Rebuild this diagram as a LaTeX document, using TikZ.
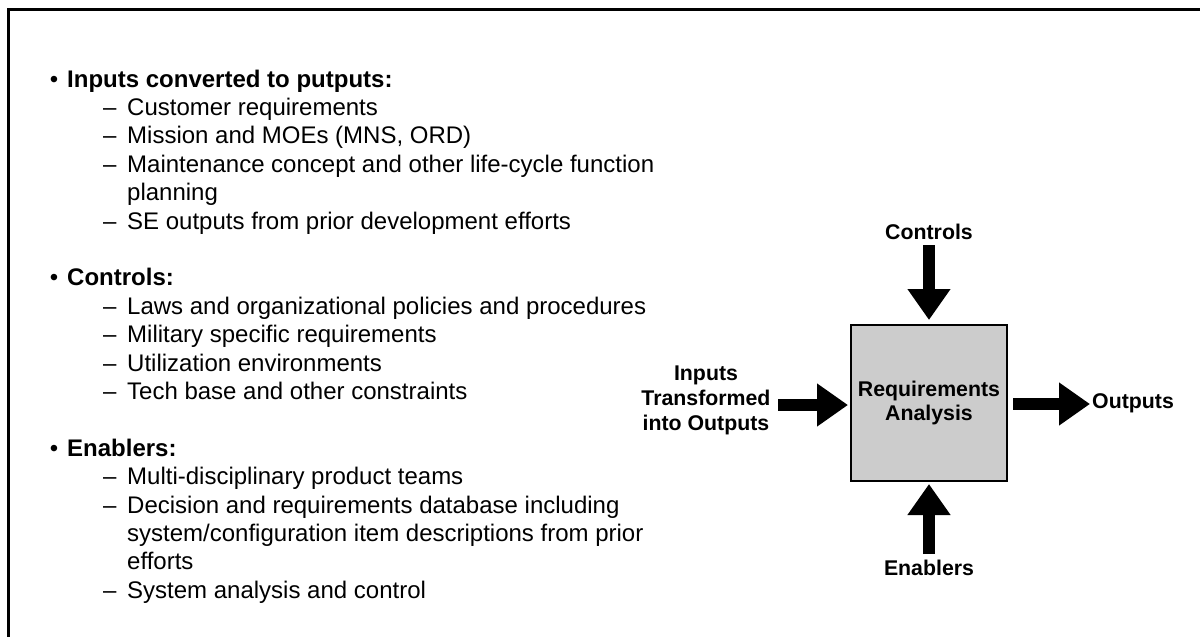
\documentclass[tikz,border=0pt]{standalone}
\usepackage{fontspec}
\setmainfont{Liberation Sans}
\usetikzlibrary{arrows.meta}
\begin{document}
\begin{tikzpicture}[x=1pt,y=-1pt,
  listtxt/.style={anchor=base west,inner sep=0pt,font=\fontsize{24}{29}\selectfont},
  hdrtxt/.style={listtxt,font=\fontsize{24}{29}\selectfont\bfseries},
  bul/.style={anchor=base,inner sep=0pt,font=\fontsize{24}{29}\selectfont},
  dsh/.style={anchor=base west,inner sep=0pt,font=\fontsize{24}{29}\selectfont},
  lab/.style={inner sep=0pt,align=center,font=\fontsize{21.3}{25}\selectfont\bfseries},
  bigarrow/.style={line width=12pt,-{Triangle[width=41pt,length=31pt]}},
  procbox/.style={draw,line width=2pt,fill=black!20,minimum width=156pt,minimum height=156pt,inner sep=0pt,align=center,font=\fontsize{21.3}{24}\selectfont\bfseries}
]
\useasboundingbox (0,0) rectangle (1200,637);
\begin{scope}
\clip (0,0) rectangle (1200,637);
\draw[line width=3pt] (8,9) rectangle (1220,660);
\end{scope}

% ---- list ----
\node[bul] (b1) at (54,87) {•};
\node[hdrtxt] (h1) at (67,87) {Inputs converted to putputs:};
\node[dsh] (d11) at (103,115.4) {–};
\node[listtxt] (t11) at (127,115.4) {Customer requirements};
\node[dsh] (d12) at (103,143.8) {–};
\node[listtxt] (t12) at (127,143.8) {Mission and MOEs (MNS, ORD)};
\node[dsh] (d13) at (103,172.2) {–};
\node[listtxt] (t13) at (127,172.2) {Maintenance concept and other life-cycle function};
\node[listtxt] (t13b) at (127,200.6) {planning};
\node[dsh] (d14) at (103,229) {–};
\node[listtxt] (t14) at (127,229) {SE outputs from prior development efforts};

\node[bul] (b2) at (54,285.8) {•};
\node[hdrtxt] (h2) at (67,285.8) {Controls:};
\node[dsh] (d21) at (103,314.2) {–};
\node[listtxt] (t21) at (127,314.2) {Laws and organizational policies and procedures};
\node[dsh] (d22) at (103,342.6) {–};
\node[listtxt] (t22) at (127,342.6) {Military specific requirements};
\node[dsh] (d23) at (103,371) {–};
\node[listtxt] (t23) at (127,371) {Utilization environments};
\node[dsh] (d24) at (103,399.4) {–};
\node[listtxt] (t24) at (127,399.4) {Tech base and other constraints};

\node[bul] (b3) at (54,456.2) {•};
\node[hdrtxt] (h3) at (67,456.2) {Enablers:};
\node[dsh] (d31) at (103,484.6) {–};
\node[listtxt] (t31) at (127,484.6) {Multi-disciplinary product teams};
\node[dsh] (d32) at (103,513) {–};
\node[listtxt] (t32) at (127,513) {Decision and requirements database including};
\node[listtxt] (t32b) at (127,541.4) {system/configuration item descriptions from prior};
\node[listtxt] (t32c) at (127,569.8) {efforts};
\node[dsh] (d33) at (103,598.2) {–};
\node[listtxt] (t33) at (127,598.2) {System analysis and control};

% ---- diagram ----
\node[procbox] (box) at (929,403) {Requirements\\Analysis};
\node[lab] (ctl) at (929,232) {Controls};
\node[lab] (enb) at (929,568) {Enablers};
\node[lab] (inlab) at (706,400) {Inputs\\Transformed\\into Outputs};
\node[lab,anchor=west] (outlab) at (1092,403) {Outputs};

\coordinate (ctlStart) at (929,245);
\coordinate (enbStart) at (929,554);
\coordinate (inStart) at (778,405);
\coordinate (outEnd) at (1090,404);

\draw[bigarrow,shorten >=4pt] (ctlStart) -- (box.north);
\draw[bigarrow,shorten >=2pt] (enbStart) -- (box.south);
\draw[bigarrow,shorten >=2pt] (inStart) -- (inStart -| box.west);
\draw[bigarrow,shorten <=5pt] (box.east |- outEnd) -- (outEnd);
\end{tikzpicture}
\end{document}
